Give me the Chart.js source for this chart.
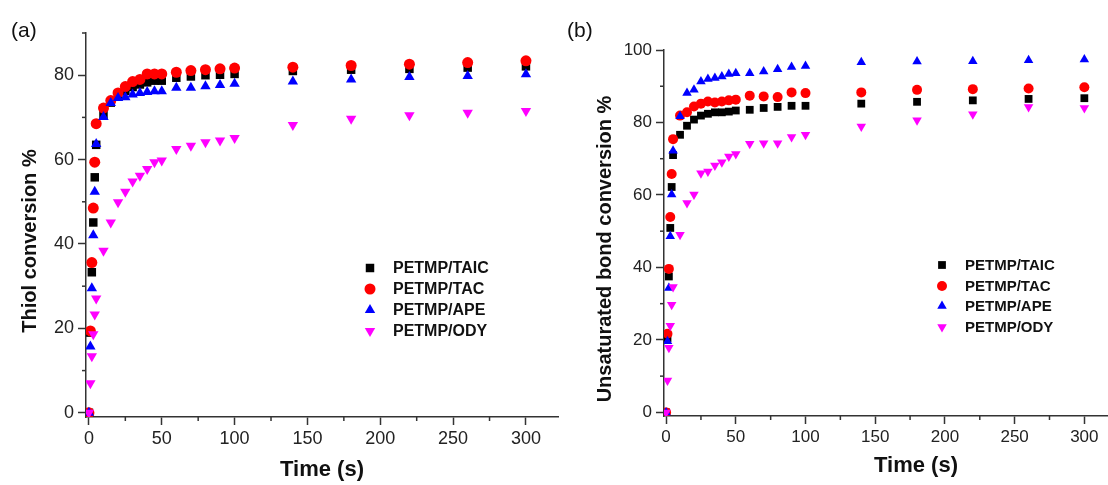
<!DOCTYPE html>
<html><head><meta charset="utf-8">
<script src="https://cdn.jsdelivr.net/npm/chart.js@4.4.0/dist/chart.umd.min.js"></script>
<style>
html,body{margin:0;padding:0;background:#fff;overflow:hidden;width:1108px;height:485px;position:relative;}
#pa{position:absolute;left:0;top:0;width:565px;height:485px;}
#pb{position:absolute;left:560px;top:0;width:620px;height:485px;}
.lab{position:absolute;font-family:"Liberation Sans",Arial,sans-serif;font-size:21px;color:#111;line-height:1;}
</style></head><body>
<div id="pa"><canvas id="ca"></canvas></div>
<div id="pb"><canvas id="cb"></canvas></div>
<div class="lab" style="left:11px;top:19px">(a)</div>
<div class="lab" style="left:567px;top:19px">(b)</div>
<script>
// ---- data ----
const times = [0,1,2,3,4,5,10,15,20,25,30,35,40,45,50,60,70,80,90,100,140,180,220,260,300];
const seriesNames = ['PETMP/TAIC','PETMP/TAC','PETMP/APE','PETMP/ODY'];

const thiolTAIC = [0,19,33.3,45.1,55.8,63.5,70.5,73.5,75.0,76.3,77.2,77.8,78.3,78.7,78.7,79.4,79.7,80.0,80.1,80.3,81.0,81.3,81.5,81.8,82.1];
const thiolTAC  = [0,19.4,35.6,48.5,59.4,68.5,72.2,74.0,75.8,77.3,78.5,79.0,80.3,80.3,80.3,80.7,81.1,81.3,81.5,81.7,81.9,82.3,82.6,83.0,83.4];
const thiolAPE  = [0,15.7,29.5,42.1,52.4,63.7,70.1,73.4,74.6,74.8,75.4,75.8,76.0,76.2,76.2,77.0,77.0,77.4,77.7,78.0,78.5,79.0,79.6,79.8,80.2];
const thiolODY  = [0,7.0,13.4,18.6,23.3,27.1,38.4,45.1,49.9,52.4,54.8,56.2,57.8,59.4,59.8,62.5,63.3,64.1,64.5,65.1,68.2,69.7,70.5,71.1,71.5];

const unsatTAIC = [0,20.5,37.5,50.9,62.2,71.0,76.6,79.1,80.8,81.9,82.4,82.8,82.8,83.0,83.3,83.5,84.0,84.3,84.6,84.6,85.2,85.7,86.1,86.5,86.7];
const unsatTAC  = [0,21.7,39.6,53.9,65.8,75.4,81.9,82.8,84.4,85.2,85.8,85.5,85.8,86.1,86.3,87.4,87.2,87.0,88.3,88.1,88.3,89.0,89.2,89.4,89.7];
const unsatAPE  = [0,19.6,34.3,48.6,60.1,72.2,81.7,88.1,89.0,91.3,92.0,92.3,92.7,93.4,93.6,93.6,94.1,94.7,95.3,95.6,96.6,96.8,96.9,97.2,97.4];
const unsatODY  = [0,8.8,17.8,23.9,29.7,34.6,49.0,57.8,60.1,66.0,66.5,68.1,69.0,70.6,71.3,74.1,74.3,74.3,76.0,76.6,78.9,80.6,82.3,84.3,84.0];

const xMajorTicks = [0,50,100,150,200,250,300];
const xMinorTicks = [25,75,125,175,225,275,325];
const yMajorTicksA = [0,20,40,60,80];
const yMinorTicksA = [10,30,50,70,90];
const yMajorTicksB = [0,20,40,60,80,100];
const yMinorTicksB = [10,30,50,70,90];

// ---- styles ----
const FONT = '"Liberation Sans", Arial, sans-serif';
const AX = '#333';
const markerStyles = [
  {color:'#000000', style:'rect', rot:0},
  {color:'#ff0000', style:'circle', rot:0},
  {color:'#0000ff', style:'triangle', rot:0},
  {color:'#ff00ff', style:'triangle', rot:180}
];

function pts(vals){ return vals.map((v,i)=>({x:times[i], y:v})); }

function drawMarker(ctx, st, r, x, y){
  ctx.fillStyle = st.color;
  ctx.strokeStyle = st.color;
  Chart.helpers.drawPoint(ctx, {pointStyle:st.style, radius:r, rotation:st.rot, borderWidth:0}, x, y);
}

const decor = {
  id:'decor',
  afterDraw(chart, args, o){
    const ctx = chart.ctx, xs = chart.scales.x, ys = chart.scales.y;
    ctx.save();
    ctx.strokeStyle = AX; ctx.lineWidth = 1.5;
    o.xMinor.forEach(v=>{
      if (v < xs.min || v > xs.max) return;
      const p = xs.getPixelForValue(v);
      ctx.beginPath(); ctx.moveTo(p, xs.top); ctx.lineTo(p, xs.top + o.minorLen); ctx.stroke();
    });
    o.yMinor.forEach(v=>{
      if (v < ys.min || v > ys.max) return;
      const p = ys.getPixelForValue(v);
      ctx.beginPath(); ctx.moveTo(ys.right, p); ctx.lineTo(ys.right - o.minorLen, p); ctx.stroke();
    });
    // legend
    ctx.font = 'bold ' + o.legend.size + 'px ' + FONT;
    ctx.textBaseline = 'middle'; ctx.textAlign = 'left';
    chart.data.datasets.forEach((ds,i)=>{
      const y = o.legend.rows[i];
      drawMarker(ctx, markerStyles[i], ds.pointRadius, o.legend.mx, y);
      ctx.fillStyle = '#111';
      ctx.fillText(ds.label, o.legend.tx, y + 1);
    });
    // y title
    ctx.translate(o.yTitle.x, o.yTitle.y);
    ctx.rotate(-Math.PI/2);
    ctx.font = 'bold ' + o.yTitle.size + 'px ' + FONT;
    ctx.textAlign = 'center'; ctx.textBaseline = 'middle';
    ctx.fillStyle = '#111';
    ctx.fillText(o.yTitle.text, 0, 0);
    ctx.restore();
  }
};

function makeChart(id, series, cfg){
  const radii = cfg.radii;
  const datasets = series.map((vals,i)=>({
    label: seriesNames[i],
    data: pts(vals),
    showLine:false,
    pointStyle: markerStyles[i].style,
    pointRotation: markerStyles[i].rot,
    pointRadius: radii[i],
    pointHoverRadius: radii[i],
    pointBorderWidth: 0,
    backgroundColor: markerStyles[i].color,
    borderColor: markerStyles[i].color,
    order: 4 - i
  }));
  return new Chart(document.getElementById(id), {
    type:'scatter',
    data:{datasets},
    plugins:[decor],
    options:{
      responsive:true, maintainAspectRatio:false, animation:false,
      layout:{padding:cfg.padding},
      plugins:{legend:{display:false}, tooltip:{enabled:false},
        decor:{xMinor:xMinorTicks, yMinor:cfg.yMinor, minorLen:4,
          legend:cfg.legend, yTitle:cfg.yTitle}},
      scales:{
        x:{type:'linear', min:cfg.xMin, max:cfg.xMax,
          afterBuildTicks:s=>{ s.ticks = xMajorTicks.map(v=>({value:v})); },
          afterFit:s=>{ s.height = cfg.xHeight; },
          grid:{drawOnChartArea:false, drawTicks:true, tickLength:8, tickColor:AX, tickWidth:1.5},
          border:{display:true, color:AX, width:1.5},
          ticks:{font:{family:FONT, size:cfg.tickSize}, color:'#222', padding:3, maxRotation:0, autoSkip:false},
          title:{display:true, text:'Time (s)', font:{family:FONT, size:22, weight:'bold'}, color:'#111', padding:{top:0,bottom:cfg.xTitlePad}}
        },
        y:{type:'linear', min:cfg.yMin, max:cfg.yMax,
          afterBuildTicks:s=>{ s.ticks = cfg.yMajor.map(v=>({value:v})); },
          afterFit:s=>{ s.width = cfg.yWidth; },
          grid:{drawOnChartArea:false, drawTicks:true, tickLength:8, tickColor:AX, tickWidth:1.5},
          border:{display:true, color:AX, width:1.5},
          ticks:{font:{family:FONT, size:cfg.tickSize}, color:'#222', padding:4, autoSkip:false}
        }
      }
    }
  });
}

makeChart('ca', [thiolTAIC, thiolTAC, thiolAPE, thiolODY], {
  radii:[6,5.5,6,6],
  padding:{top:33,right:7,left:0,bottom:0},
  xMin:-2, xMax:322, yMin:-1, yMax:90,
  yMajor:yMajorTicksA, yMinor:yMinorTicksA,
  xHeight:68, yWidth:86, tickSize:18, xTitlePad:2,
  legend:{size:16, mx:370, tx:393, rows:[268,289,310,331]},
  yTitle:{text:'Thiol conversion %', x:30, y:241, size:20}
});

makeChart('cb', [unsatTAIC, unsatTAC, unsatAPE, unsatODY], {
  radii:[5.5,5,5.5,5.5],
  padding:{top:50,right:12,left:0,bottom:0},
  xMin:-1.5, xMax:360, yMin:-1, yMax:100,
  yMajor:yMajorTicksB, yMinor:yMinorTicksB,
  xHeight:69, yWidth:104, tickSize:17, xTitlePad:6,
  legend:{size:15, mx:382, tx:405, rows:[265,286,306,327]},
  yTitle:{text:'Unsaturated bond conversion %', x:45, y:249, size:20}
});
</script>
</body></html>
